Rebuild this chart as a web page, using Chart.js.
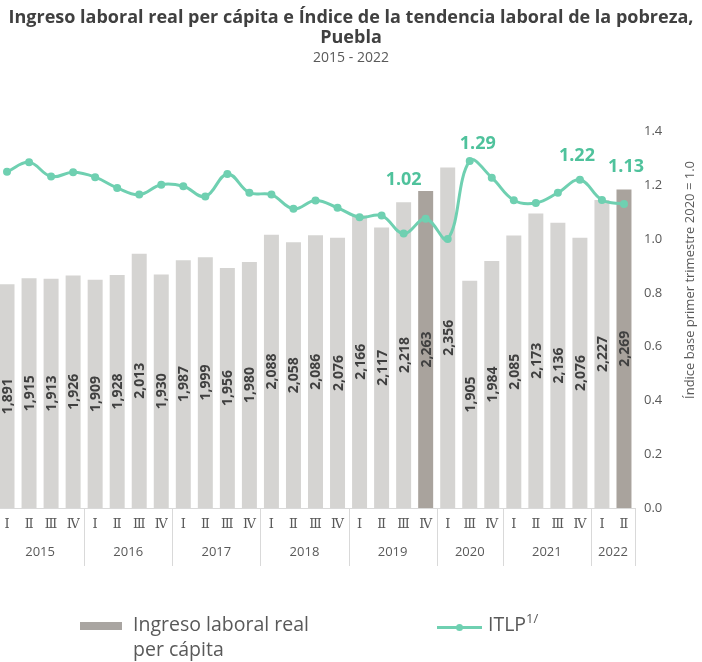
<!DOCTYPE html>
<html>
<head>
<meta charset="utf-8">
<script src="https://cdn.jsdelivr.net/npm/chart.js@4.4.0/dist/chart.umd.min.js"></script>
<style>
  body { margin: 0; width: 702px; height: 662px; overflow: hidden; position: relative; background: #fff; font-family: 'Open Sans', sans-serif; }
  #wrap { position: absolute; left: -8px; top: 0; }
  .legend { position: absolute; top: 611px; color: #595959; font-size: 19.5px; line-height: 25px; }
  .swatch-bar { position: absolute; left: 80px; top: 622px; width: 42px; height: 8px; background: #a9a5a1; }
  .swatch-line { position: absolute; left: 437px; top: 626px; width: 45px; height: 3px; background: #6fd0b1; }
  .swatch-line:after { content: ''; position: absolute; left: 19px; top: -2px; width: 7px; height: 7px; border-radius: 50%; background: #6fd0b1; }
  sup { font-size: 13px; vertical-align: 8px; line-height: 0; }
</style>
</head>
<body>
<div id="wrap"><canvas id="myChart" width="718" height="662"></canvas></div>
<div class="swatch-bar"></div>
<div class="legend" style="left:133px">Ingreso laboral real<br>per cápita</div>
<div class="swatch-line"></div>
<div class="legend" style="left:488px">ITLP<sup>1/</sup></div>
<script>
// quarters shown on the x axis (2020 has no second quarter)
const quarters = ['Ⅰ','Ⅱ','Ⅲ','Ⅳ', 'Ⅰ','Ⅱ','Ⅲ','Ⅳ', 'Ⅰ','Ⅱ','Ⅲ','Ⅳ', 'Ⅰ','Ⅱ','Ⅲ','Ⅳ',
                  'Ⅰ','Ⅱ','Ⅲ','Ⅳ', 'Ⅰ','Ⅲ','Ⅳ', 'Ⅰ','Ⅱ','Ⅲ','Ⅳ', 'Ⅰ','Ⅱ'];
const years = ['2015','2016','2017','2018','2019','2020','2021','2022'];
const quartersPerYear = [4, 4, 4, 4, 4, 3, 4, 2];

// Ingreso laboral real per cápita (pesos)
const ingreso = [1891, 1915, 1913, 1926, 1909, 1928, 2013, 1930, 1987, 1999, 1956, 1980,
                 2088, 2058, 2086, 2076, 2166, 2117, 2218, 2263, 2356, 1905, 1984,
                 2085, 2173, 2136, 2076, 2227, 2269];
// ITLP, índice base primer trimestre 2020 = 1.0
const itlp = [1.25, 1.285, 1.232, 1.248, 1.23, 1.19, 1.165, 1.202, 1.196, 1.158, 1.242, 1.172,
              1.165, 1.112, 1.143, 1.116, 1.081, 1.087, 1.02, 1.075, 1.0, 1.29, 1.228,
              1.144, 1.134, 1.172, 1.22, 1.145, 1.13];
const highlighted = [19, 28];        // bars in darker gray
const labeledPoints = [18, 21, 26, 28];

const gray = '#595959';
const green = '#6fd0b1';

// where each ITLP label sits relative to its point
const labelOffsets = { 18: [0, -54], 21: [8, -17], 26: [-3, -24], 28: [2, -37] };

const extras = {
  id: 'extras',
  afterDraw(chart) {
    const c = chart.ctx;
    const x = chart.scales.x;
    const area = chart.chartArea;
    const step = x.getPixelForValue(1) - x.getPixelForValue(0);

    // bar values, rotated inside each bar
    const bars = chart.getDatasetMeta(0).data;
    c.save();
    c.font = 'bold 14px "Open Sans"';
    c.fillStyle = '#404040';
    c.textAlign = 'center';
    c.textBaseline = 'middle';
    bars.forEach((b, i) => {
      c.save();
      c.translate(b.x, (b.y + area.bottom) / 2);
      c.rotate(-Math.PI / 2);
      c.fillText(ingreso[i].toLocaleString('en-US'), 0, 1);
      c.restore();
    });

    // ITLP labels
    const pts = chart.getDatasetMeta(1).data;
    c.font = 'bold 18px "Open Sans"';
    c.fillStyle = '#4fc29c';
    labeledPoints.forEach(i => {
      const o = labelOffsets[i];
      c.fillText(itlp[i].toFixed(2), pts[i].x + o[0], pts[i].y + o[1]);
    });

    // year groups under the quarters
    c.strokeStyle = '#d9d9d9';
    c.lineWidth = 1;
    c.font = '13px "Open Sans"';
    c.fillStyle = gray;
    let start = 0;
    quartersPerYear.forEach((n, k) => {
      const left = x.getPixelForValue(start) - step / 2;
      const right = x.getPixelForValue(start + n - 1) + step / 2;
      [left, right].forEach(px => {
        c.beginPath();
        c.moveTo(Math.round(px) + 0.5, area.bottom);
        c.lineTo(Math.round(px) + 0.5, area.bottom + 58);
        c.stroke();
      });
      c.fillText(years[k], (left + right) / 2, area.bottom + 44);
      start += n;
    });

    // right axis title
    c.translate(698, 280);
    c.rotate(-Math.PI / 2);
    c.fillText('Índice base primer trimestre 2020 = 1.0', 0, 0);
    c.restore();
  }
};

const ctx = document.getElementById('myChart');
new Chart(ctx, {
  data: {
    labels: quarters,
    datasets: [{
      type: 'bar',
      label: 'Ingreso laboral real per cápita',
      data: ingreso,
      backgroundColor: ingreso.map((v, i) => highlighted.includes(i) ? '#a9a39d' : '#d5d4d2'),
      barPercentage: 0.68,
      categoryPercentage: 1,
      yAxisID: 'y',
      order: 1
    }, {
      type: 'line',
      label: 'ITLP',
      data: itlp,
      borderColor: green,
      backgroundColor: green,
      borderWidth: 3,
      pointRadius: 4,
      pointBackgroundColor: green,
      pointBorderWidth: 0,
      tension: 0.4,
      yAxisID: 'y1',
      order: 0
    }]
  },
  options: {
    responsive: false,
    animation: false,
    devicePixelRatio: 1,
    layout: { padding: { left: 0, right: 0, top: 0, bottom: 90 } },
    scales: {
      x: {
        grid: { display: false, drawTicks: false },
        border: { color: '#d9d9d9' },
        ticks: {
          autoSkip: false,
          maxRotation: 0,
          padding: 9,
          color: gray,
          font: { family: '"DejaVu Serif"', size: 13 }
        },
        afterFit: s => { s.height = 64; }
      },
      y: {
        display: false,
        min: 1000,
        max: 2500
      },
      y1: {
        position: 'right',
        min: 0,
        max: 1.4,
        grid: { display: false, drawTicks: false },
        border: { display: false },
        ticks: {
          stepSize: 0.2,
          padding: 9,
          color: gray,
          font: { family: '"Open Sans"', size: 13 },
          callback: v => v.toFixed(1)
        },
        afterFit: s => { s.width = 75; }
      }
    },
    plugins: {
      legend: { display: false },
      tooltip: { enabled: false },
      title: {
        display: true,
        text: ['Ingreso laboral real per cápita e Índice de la tendencia laboral de la pobreza,', 'Puebla'],
        color: '#404040',
        font: { family: '"Open Sans"', size: 18, weight: 'bold', lineHeight: 1.1 },
        padding: { top: 8, bottom: 0 }
      },
      subtitle: {
        display: true,
        text: '2015 - 2022',
        color: gray,
        font: { family: '"Open Sans"', size: 14 },
        padding: { top: 2, bottom: 65 }
      }
    }
  },
  plugins: [extras]
});
</script>
</body>
</html>
